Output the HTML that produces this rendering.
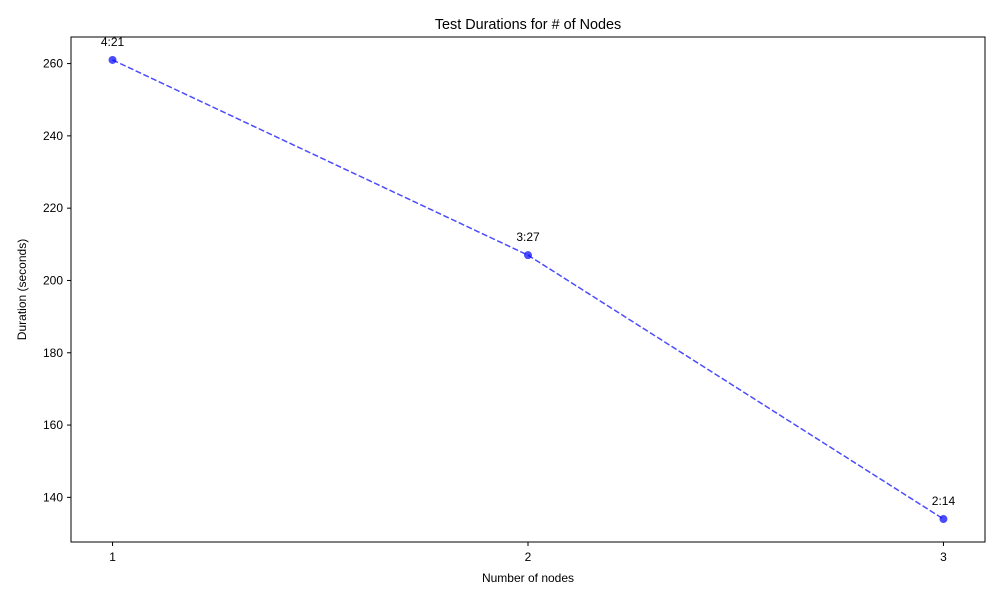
<!DOCTYPE html>
<html><head><meta charset="utf-8"><style>
body{margin:0;background:#fff;font-family:"Liberation Sans","DejaVu Sans",sans-serif}
</style></head><body>
<svg id="chart" width="1000" height="600" xmlns="http://www.w3.org/2000/svg"></svg>
<script>
const categories=[1,2,3];
const durations=[261,207,134];
const pointLabels=["4:21","3:27","2:14"];
const yTicks=[140,160,180,200,220,240,260];
const xTicks=[1,2,3];
const L=71,R=985,T=37,B=542;
const xMin=0.9,xMax=3.1,yMin=127.65,yMax=267.35;
const xs=v=>L+(v-xMin)/(xMax-xMin)*(R-L);
const ys=v=>B-(v-yMin)/(yMax-yMin)*(B-T);
const svg=document.getElementById('chart');
const NS='http://www.w3.org/2000/svg';
function mk(tag,attrs,txt){const e=document.createElementNS(NS,tag);for(const k in attrs)e.setAttribute(k,attrs[k]);if(txt!==undefined)e.textContent=txt;svg.appendChild(e);return e;}
let e;
e=mk('rect',{x:L,y:T,width:R-L,height:B-T,fill:'none',stroke:'#000','stroke-width':1});


yTicks.forEach(v=>{
 e=mk('line',{x1:L-4,x2:L,y1:ys(v),y2:ys(v),stroke:'#000'});
 
 
 e=mk('text',{x:L-8,y:ys(v)+4,'text-anchor':'end','font-size':12},v);
 
 
});
xTicks.forEach(v=>{
 e=mk('line',{x1:xs(v),x2:xs(v),y1:B,y2:B+4,stroke:'#000'});
 
 
 e=mk('text',{x:xs(v),y:B+19,'text-anchor':'middle','font-size':12},v);
 
 
});
const pts=categories.map((c,i)=>xs(c)+','+ys(durations[i])).join(' ');
e=mk('polyline',{points:pts,fill:'none',stroke:'#0000ff','stroke-opacity':0.7,'stroke-width':1.5,'stroke-dasharray':'6,2.5'});


categories.forEach((c,i)=>{
 e=mk('circle',{cx:xs(c),cy:ys(durations[i]),r:4,fill:'#0000ff','fill-opacity':0.7});
 
 
 e=mk('text',{x:xs(c),y:ys(durations[i])-14,'text-anchor':'middle','font-size':12},pointLabels[i]);
 
 
});
e=mk('text',{x:(L+R)/2,y:29,'text-anchor':'middle','font-size':14.4},'Test Durations for # of Nodes');


e=mk('text',{x:(L+R)/2,y:582,'text-anchor':'middle','font-size':12},'Number of nodes');


e=mk('text',{x:26,y:(T+B)/2,'text-anchor':'middle','font-size':12,transform:'rotate(-90 26 '+(T+B)/2+')'},'Duration (seconds)');


</script>
</body></html>
